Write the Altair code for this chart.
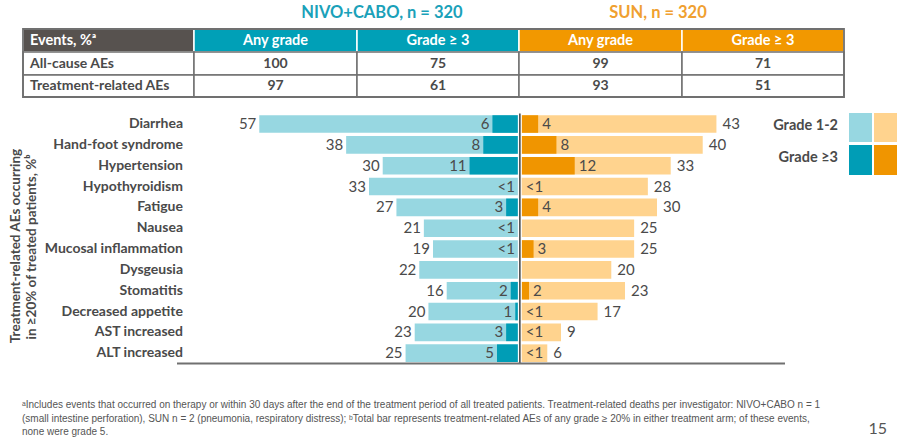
import altair as alt
import pandas as pd

# ---- data -------------------------------------------------------------
categories = [
    "Diarrhea", "Hand-foot syndrome", "Hypertension", "Hypothyroidism",
    "Fatigue", "Nausea", "Mucosal inflammation", "Dysgeusia", "Stomatitis",
    "Decreased appetite", "AST increased", "ALT increased",
]
nivo_any = [57, 38, 30, 33, 27, 21, 19, 22, 16, 20, 23, 25]
nivo_g3 = ["6", "8", "11", "<1", "3", "<1", "<1", "", "2", "1", "3", "5"]
sun_any = [43, 40, 33, 28, 30, 25, 25, 20, 23, 17, 9, 6]
sun_g3 = ["4", "8", "12", "<1", "4", "", "3", "", "2", "<1", "<1", "<1"]

arms = ["NIVO+CABO", "SUN"]
arm_titles = ["NIVO+CABO, n = 320", "SUN, n = 320"]
table_header = ["Events, %ᵃ", "Any grade", "Grade ≥ 3", "Any grade", "Grade ≥ 3"]
table_rows = ["All-cause AEs", "Treatment-related AEs"]
nivo_tab_any = [100, 97]
nivo_tab_g3 = [75, 61]
sun_tab_any = [99, 93]
sun_tab_g3 = [71, 51]

legend_labels = ["Grade 1-2", "Grade ≥3"]
y_title = ["Treatment-related AEs occurring", "in ≥20% of treated patients, %ᵇ"]
footnote = [
    "ᵃIncludes events that occurred on therapy or within 30 days after the end of the treatment period of all treated patients. Treatment-related deaths per investigator: NIVO+CABO n = 1",
    "(small intestine perforation), SUN n = 2 (pneumonia, respiratory distress); ᵇTotal bar represents treatment-related AEs of any grade ≥ 20% in either treatment arm; of these events,",
    "none were grade 5.",
]
page_number = "15"

# ---- style ------------------------------------------------------------
FONT = "Lato"
TXT = "#4a4a4a"
LIGHT = ["#97d7e1", "#ffd38e"]
DARK = ["#009db6", "#f09500"]
HEAD = ["#57524f", "#00a0b7", "#f29800"]
TITLE_COL = ["#1aa1b9", "#f0a030"]

W, H = 608, 250
OX, OY = 177, 113.6          # plot-area origin on the page


def num(s):
    if s == "":
        return 0.0
    if s == "<1":
        return 0.4
    return float(s)


recs = []
for i, c in enumerate(categories):
    for arm, sign, tot, g3 in ((arms[0], -1, nivo_any[i], nivo_g3[i]),
                               (arms[1], 1, sun_any[i], sun_g3[i])):
        recs.append(dict(cat=c, arm=arm, any_val=sign * tot,
                         g3_val=sign * num(g3), any_label=str(tot),
                         g3_label=g3))
bars = pd.DataFrame(recs)

shade_domain = [f"{a} 1-2" for a in arms] + [f"{a} 3" for a in arms]
shade_scale = alt.Scale(domain=shade_domain, range=LIGHT + DARK)

xscale = alt.Scale(domain=[-75, 58], nice=False, zero=False)
yscale = alt.Scale(domain=categories, paddingInner=0.155, paddingOuter=0.078)
yenc = alt.Y("cat:N", scale=yscale, axis=None)

base = alt.Chart(bars)

light = base.transform_calculate(shade="datum.arm + ' 1-2'").mark_bar().encode(
    x=alt.X("any_val:Q", scale=xscale, axis=None),
    x2=alt.datum(0),
    y=yenc,
    color=alt.Color("shade:N", scale=shade_scale, legend=None),
)

dark = base.transform_filter("datum.g3_val != 0").transform_calculate(
    shade="datum.arm + ' 3'").mark_bar().encode(
    x=alt.X("g3_val:Q", scale=xscale, axis=None),
    x2=alt.datum(0),
    y=yenc,
    color=alt.Color("shade:N", scale=shade_scale, legend=None),
)

lbl_kw = dict(font=FONT, fontSize=15, color=TXT, baseline="middle")
tot_left = base.transform_filter(f"datum.arm == '{arms[0]}'").mark_text(
    align="right", dx=-3, **lbl_kw).encode(
    x=alt.X("any_val:Q", scale=xscale), y=yenc, text="any_label:N")
tot_right = base.transform_filter(f"datum.arm == '{arms[1]}'").mark_text(
    align="left", dx=6, **lbl_kw).encode(
    x=alt.X("any_val:Q", scale=xscale), y=yenc, text="any_label:N")
g3_left = base.transform_filter(
    f"datum.arm == '{arms[0]}' && datum.g3_label != ''").mark_text(
    align="right", dx=-3, **lbl_kw).encode(
    x=alt.X("g3_val:Q", scale=xscale), y=yenc, text="g3_label:N")
g3_right = base.transform_filter(
    f"datum.arm == '{arms[1]}' && datum.g3_label != ''").mark_text(
    align="left", dx=4, **lbl_kw).encode(
    x=alt.X("g3_val:Q", scale=xscale), y=yenc, text="g3_label:N")

cat_labels = alt.Chart(pd.DataFrame({"cat": categories})).mark_text(
    align="right", baseline="middle", font=FONT, fontSize=14,
    fontWeight="bold", color=TXT).encode(
    x=alt.value(6), y=yenc, text="cat:N")

one = pd.DataFrame({"v": [0]})
gap_rule = alt.Chart(one).mark_rule(color="white", strokeWidth=4).encode(
    x=alt.datum(0, scale=xscale))
mid_rule = alt.Chart(one).mark_rule(color="#4d4d4d", strokeWidth=1.6).encode(
    x=alt.datum(0, scale=xscale))
base_line = alt.Chart(one).mark_rule(color="#707070", strokeWidth=2).encode(
    x=alt.value(0), x2=alt.value(W), y=alt.value(H))

plot = alt.layer(light, dark, gap_rule, mid_rule, base_line, tot_left,
                 tot_right, g3_left, g3_right, cat_labels)


# ---- page-level decoration (pixel positions relative to plot origin) --
def px_text(df, **kw):
    return alt.Chart(df).mark_text(**kw).encode(
        x=alt.X("x:Q", scale=None, axis=None),
        y=alt.Y("y:Q", scale=None, axis=None),
        text="text:N")


def px_rect(df, **kw):
    return alt.Chart(df).mark_rect(**kw).encode(
        x=alt.X("x:Q", scale=None, axis=None), x2="x2:Q",
        y=alt.Y("y:Q", scale=None, axis=None), y2="y2:Q",
        fill=alt.Fill("fill:N", scale=None))


col_edges = [23, 194, 357, 519, 682, 844]
row_edges = [29, 52, 75, 97]

head_cells = pd.DataFrame([
    dict(x=col_edges[j] - OX, x2=col_edges[j + 1] - OX,
         y=row_edges[0] - OY, y2=row_edges[1] - OY,
         fill=HEAD[0] if j == 0 else (HEAD[1] if j < 3 else HEAD[2]))
    for j in range(5)])
body_cells = pd.DataFrame([
    dict(x=col_edges[j] - OX, x2=col_edges[j + 1] - OX,
         y=row_edges[r + 1] - OY, y2=row_edges[r + 2] - OY, fill="white")
    for r in range(2) for j in range(5)])
outer = pd.DataFrame([dict(x=col_edges[0] - OX, x2=col_edges[-1] - OX,
                           y=row_edges[0] - OY, y2=row_edges[-1] - OY,
                           fill="transparent")])

head_rect = px_rect(head_cells, stroke="white", strokeWidth=1.5)
body_rect = px_rect(body_cells, stroke="#707070", strokeWidth=1.5)
outer_rect = px_rect(outer, stroke="#707070", strokeWidth=1.8)

row_mid = [(row_edges[k] + row_edges[k + 1]) / 2 - OY for k in range(3)]
col_mid = [(col_edges[j] + col_edges[j + 1]) / 2 - OX for j in range(5)]

head_first = px_text(pd.DataFrame([dict(x=30 - OX, y=row_mid[0], text=table_header[0])]),
                     align="left", baseline="middle", font=FONT, fontSize=14.5,
                     fontWeight="bold", color="white")
head_rest = px_text(pd.DataFrame([dict(x=col_mid[j], y=row_mid[0], text=table_header[j])
                                  for j in range(1, 5)]),
                    align="center", baseline="middle", font=FONT, fontSize=14.5,
                    fontWeight="bold", color="white")
row_names = px_text(pd.DataFrame([dict(x=30 - OX, y=row_mid[r + 1], text=table_rows[r])
                                  for r in range(2)]),
                    align="left", baseline="middle", font=FONT, fontSize=14,
                    fontWeight="bold", color=TXT)
tab_vals = [nivo_tab_any, nivo_tab_g3, sun_tab_any, sun_tab_g3]
row_vals = px_text(pd.DataFrame([dict(x=col_mid[j + 1], y=row_mid[r + 1],
                                      text=str(tab_vals[j][r]))
                                 for r in range(2) for j in range(4)]),
                   align="center", baseline="middle", font=FONT, fontSize=14,
                   fontWeight="bold", color=TXT)

titles = [
    px_text(pd.DataFrame([dict(x=382 - OX, y=13 - OY, text=arm_titles[0])]),
            align="center", baseline="middle", font=FONT, fontSize=16.5,
            fontWeight="bold", color=TITLE_COL[0]),
    px_text(pd.DataFrame([dict(x=658 - OX, y=13 - OY, text=arm_titles[1])]),
            align="center", baseline="middle", font=FONT, fontSize=16.5,
            fontWeight="bold", color=TITLE_COL[1]),
]

legend_sw = pd.DataFrame([
    dict(x=849 - OX, x2=872 - OX, y=113 - OY, y2=142 - OY, fill=LIGHT[0]),
    dict(x=874 - OX, x2=897 - OX, y=113 - OY, y2=142 - OY, fill=LIGHT[1]),
    dict(x=849 - OX, x2=872 - OX, y=145 - OY, y2=175 - OY, fill=DARK[0]),
    dict(x=874 - OX, x2=897 - OX, y=145 - OY, y2=175 - OY, fill=DARK[1]),
])
legend_rect = px_rect(legend_sw)
legend_txt = px_text(pd.DataFrame([dict(x=838 - OX, y=126 - OY, text=legend_labels[0]),
                                   dict(x=838 - OX, y=158 - OY, text=legend_labels[1])]),
                     align="right", baseline="middle", font=FONT, fontSize=14.5,
                     fontWeight="bold", color=TXT)

ytitle = px_text(pd.DataFrame([dict(x=16 - OX, y=246 - OY, text=y_title[0]),
                               dict(x=32 - OX, y=247 - OY, text=y_title[1])]),
                 align="center", baseline="middle", angle=270, font=FONT,
                 fontSize=13.5, fontWeight="bold", color=TXT)

foot = px_text(pd.DataFrame([dict(x=22 - OX, y=405 - OY + 13.5 * k, text=t)
                             for k, t in enumerate(footnote)]),
               align="left", baseline="middle", font="Liberation Sans",
               fontSize=10, color="#555555")
page = px_text(pd.DataFrame([dict(x=887 - OX, y=429 - OY, text=page_number)]),
               align="right", baseline="middle", font=FONT, fontSize=16,
               color="#555555")

chart = alt.layer(
    plot, head_rect, body_rect, outer_rect, head_first, head_rest, row_names,
    row_vals, *titles, legend_rect, legend_txt, ytitle, foot, page,
).resolve_scale(x="independent", y="independent").properties(
    width=W, height=H,
    autosize=alt.AutoSizeParams(type="none"),
    padding={"left": OX, "top": OY, "right": 910 - OX - W, "bottom": 444 - OY - H},
    background="white",
).configure_view(stroke=None)

chart.save("out.html", embed_options={"renderer": "svg", "actions": False})
